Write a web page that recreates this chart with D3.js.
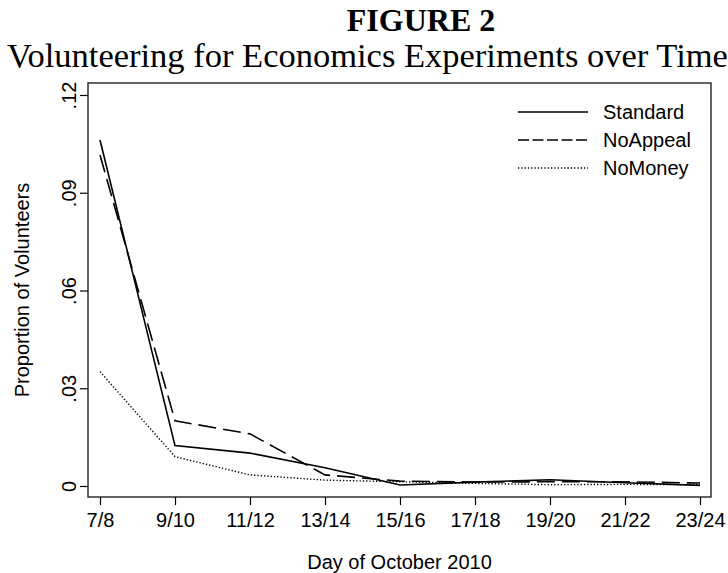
<!DOCTYPE html>
<html>
<head>
<meta charset="utf-8">
<script src="https://cdn.jsdelivr.net/npm/d3@7"></script>
<style>
  body { margin: 0; background: #fff; }
  svg { display: block; }
  .axis text { font-family: "Liberation Sans", Arial, sans-serif; font-size: 20px; fill: #000; }
  .axis line { stroke: #000; stroke-width: 1.2; }
</style>
</head>
<body>
<div id="chart"></div>
<script>
// day pairs of October 2010
const days = ['7/8', '9/10', '11/12', '13/14', '15/16', '17/18', '19/20', '21/22', '23/24'];

const standard = [0.1062, 0.0124, 0.0101, 0.0056, 0.0003, 0.0012, 0.0019, 0.0010, 0.0002];
const noAppeal = [0.1016, 0.0200, 0.0160, 0.0034, 0.0015, 0.0012, 0.0013, 0.0013, 0.0009];
const noMoney = [0.0351, 0.0090, 0.0034, 0.0018, 0.0013, 0.0008, 0.0004, 0.0005, 0.0004];

const seriesNames = ['Standard', 'NoAppeal', 'NoMoney'];
const yTicks = [0, 0.03, 0.06, 0.09, 0.12];

const width = 728;
const height = 573;
const frame = { left: 88, right: 711, top: 83, bottom: 497 };

const svg = d3.select('#chart').append('svg')
  .attr('width', width)
  .attr('height', height);

const x = d3.scalePoint().domain(days).range([100, 700]);
const y = d3.scaleLinear().domain([0, 0.12]).range([486, 95]);

// titles
svg.append('text')
  .attr('x', 421)
  .attr('y', 31)
  .attr('text-anchor', 'middle')
  .style('font-family', '"Liberation Serif", "Times New Roman", serif')
  .style('font-weight', 'bold')
  .style('font-size', '32px')
  .text('FIGURE 2');

svg.append('text')
  .attr('x', 7)
  .attr('y', 67)
  .style('font-family', '"Liberation Serif", "Times New Roman", serif')
  .style('font-size', '34.5px')
  .text('Volunteering for Economics Experiments over Time');

// plot frame
svg.append('rect')
  .attr('x', frame.left)
  .attr('y', frame.top)
  .attr('width', frame.right - frame.left)
  .attr('height', frame.bottom - frame.top)
  .attr('fill', 'none')
  .attr('stroke', '#222')
  .attr('stroke-width', 1.4);

// y axis, labels turned on their side
const yAxis = d3.axisLeft(y)
  .tickValues(yTicks)
  .tickSize(8)
  .tickFormat(d => d === 0 ? '0' : d3.format('.2f')(d).replace(/^0/, ''));

const gy = svg.append('g')
  .attr('class', 'axis')
  .attr('transform', `translate(${frame.left}, 0)`)
  .call(yAxis);
gy.select('.domain').remove();
gy.selectAll('text')
  .attr('transform', 'rotate(-90)')
  .attr('x', 0)
  .attr('y', -12)
  .attr('dy', 0)
  .attr('text-anchor', 'middle');

// x axis
const xAxis = d3.axisBottom(x).tickSize(8).tickPadding(8);
const gx = svg.append('g')
  .attr('class', 'axis')
  .attr('transform', `translate(0, ${frame.bottom})`)
  .call(xAxis);
gx.select('.domain').remove();

// axis titles
svg.append('text')
  .attr('transform', `translate(29, ${(frame.top + frame.bottom) / 2}) rotate(-90)`)
  .attr('text-anchor', 'middle')
  .style('font-family', '"Liberation Sans", Arial, sans-serif')
  .style('font-size', '20px')
  .text('Proportion of Volunteers');

svg.append('text')
  .attr('x', (frame.left + frame.right) / 2)
  .attr('y', 569)
  .attr('text-anchor', 'middle')
  .style('font-family', '"Liberation Sans", Arial, sans-serif')
  .style('font-size', '20px')
  .text('Day of October 2010');

// lines
const dashes = {
  Standard: null,
  NoAppeal: '18,7',
  NoMoney: '1.3,2'
};
const legendDashes = {
  Standard: null,
  NoAppeal: '11,3.5',
  NoMoney: '1.3,2'
};

const series = [standard, noAppeal, noMoney].map((vals, i) => ({
  name: seriesNames[i],
  values: vals.map((v, j) => ({ day: days[j], v: v }))
}));

const line = d3.line()
  .x(d => x(d.day))
  .y(d => y(d.v));

svg.selectAll('.series')
  .data(series)
  .enter()
  .append('path')
  .attr('class', 'series')
  .attr('d', d => line(d.values))
  .attr('fill', 'none')
  .attr('stroke', '#000')
  .attr('stroke-width', d => d.name === 'NoMoney' ? 1.4 : 1.6)
  .attr('stroke-dasharray', d => dashes[d.name]);

// legend
const legend = svg.append('g');
seriesNames.forEach((name, i) => {
  const ly = 112 + i * 28;
  legend.append('line')
    .attr('x1', 518)
    .attr('x2', 588)
    .attr('y1', ly)
    .attr('y2', ly)
    .attr('stroke', '#000')
    .attr('stroke-width', name === 'NoMoney' ? 1.4 : 1.6)
    .attr('stroke-dasharray', legendDashes[name]);
  legend.append('text')
    .attr('x', 603)
    .attr('y', ly + 7)
    .style('font-family', '"Liberation Sans", Arial, sans-serif')
    .style('font-size', '20px')
    .text(name);
});
</script>
</body>
</html>
